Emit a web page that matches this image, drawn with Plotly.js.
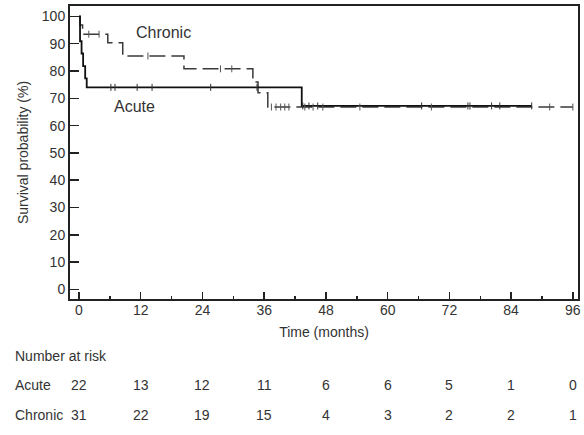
<!DOCTYPE html>
<html>
<head>
<meta charset="utf-8">
<script src="https://cdn.plot.ly/plotly-3.0.1.min.js"></script>
<style>html,body{margin:0;padding:0;background:#fff;}#chart{width:584px;height:435px;}</style>
</head>
<body>
<div id="chart"></div>
<script>
// Kaplan-Meier step data (months, survival %)
var acuteTime = [0, 0.2, 0.5, 0.8, 1.2, 1.5, 43.3, 88.0];
var acuteSurv = [100, 90.9, 86.4, 81.8, 77.3, 74.0, 67.2, 67.2];
var chronicTime = [0, 0.2, 0.7, 5.6, 8.5, 20.4, 33.8, 34.8, 36.7, 96.0];
var chronicSurv = [100, 96.8, 93.5, 90.3, 85.5, 80.8, 76.0, 72.0, 66.8, 66.8];

// censored observations
var acuteCensTime = [6.2, 7.0, 11.3, 14.2, 25.6, 34.6, 43.5, 44.7, 46.4, 66.6, 75.6, 76.0, 80.2, 81.8, 88.0];
var acuteCensSurv = [74.0, 74.0, 74.0, 74.0, 74.0, 74.0, 67.2, 67.2, 67.2, 67.2, 67.2, 67.2, 67.2, 67.2, 67.2];
var chronicCensTime = [1.9, 3.9, 13.4, 27.5, 29.7, 37.4, 38.3, 39.2, 40.0, 40.8, 43.9, 45.5, 47.4, 54.6, 68.5, 91.5, 96.0];
var chronicCensSurv = [93.5, 93.5, 85.5, 80.8, 80.8, 66.8, 66.8, 66.8, 66.8, 66.8, 66.8, 66.8, 66.8, 66.8, 66.8, 66.8, 66.8];

// number at risk table
var riskTimes = [0, 12, 24, 36, 48, 60, 72, 84, 96];
var acuteRisk = [22, 13, 12, 11, 6, 6, 5, 1, 0];
var chronicRisk = [31, 22, 19, 15, 4, 3, 2, 2, 1];

var FONT = 'Liberation Sans, Arial, Helvetica, sans-serif';
var TXT = '#333';

var traces = [
  {x: chronicTime, y: chronicSurv, mode: 'lines', line: {shape: 'hv', color: '#3a3a3a', width: 1.5, dash: '16px,6px'}, showlegend: false, hoverinfo: 'skip'},
  {x: acuteTime, y: acuteSurv, mode: 'lines', line: {shape: 'hv', color: '#111', width: 1.8}, showlegend: false, hoverinfo: 'skip'},
  {x: chronicCensTime, y: chronicCensSurv, mode: 'markers', marker: {symbol: 'line-ns', size: 5, line: {color: '#555', width: 1}}, showlegend: false, hoverinfo: 'skip'},
  {x: acuteCensTime, y: acuteCensSurv, mode: 'markers', marker: {symbol: 'line-ns', size: 5, line: {color: '#333', width: 1}}, showlegend: false, hoverinfo: 'skip'}
];

var H = 435, T = 6, B = 135.5;
var plotH = H - T - B;
function py(pix) { return (H - B - pix) / plotH; }
function px(pix) { return (pix - 70) / (584 - 70 - 6); }

var tf = {family: FONT, size: 14, color: TXT};
var annotations = [
  {x: 16.5, y: 94, xref: 'x', yref: 'y', text: 'Chronic', showarrow: false, xanchor: 'center', yanchor: 'middle', font: {family: FONT, size: 16, color: TXT}},
  {x: 10.7, y: 67, xref: 'x', yref: 'y', text: 'Acute', showarrow: false, xanchor: 'center', yanchor: 'middle', font: {family: FONT, size: 16, color: TXT}},
  {x: px(13), y: py(357), xref: 'paper', yref: 'paper', text: 'Number at risk', showarrow: false, xanchor: 'left', yanchor: 'middle', font: tf},
  {x: px(13), y: py(386), xref: 'paper', yref: 'paper', text: 'Acute', showarrow: false, xanchor: 'left', yanchor: 'middle', font: tf},
  {x: px(13), y: py(416), xref: 'paper', yref: 'paper', text: 'Chronic', showarrow: false, xanchor: 'left', yanchor: 'middle', font: tf}
];

for (var i = 0; i < riskTimes.length; i++) {
  annotations.push({x: riskTimes[i], y: py(386), xref: 'x', yref: 'paper', text: String(acuteRisk[i]), showarrow: false, xanchor: 'center', yanchor: 'middle', font: tf});
  annotations.push({x: riskTimes[i], y: py(416), xref: 'x', yref: 'paper', text: String(chronicRisk[i]), showarrow: false, xanchor: 'center', yanchor: 'middle', font: tf});
}

var layout = {
  width: 584, height: 435,
  margin: {l: 70, r: 6, t: T, b: B, pad: 0},
  paper_bgcolor: '#fff', plot_bgcolor: '#fff',
  font: {family: FONT, size: 14, color: TXT},
  showlegend: false,
  xaxis: {
    range: [-1.75, 97.0], tick0: 0, dtick: 12,
    ticks: 'inside', ticklen: 7, tickwidth: 1.5, tickcolor: '#222',
    minor: {dtick: 6, tick0: 0, ticks: 'inside', ticklen: 3, tickwidth: 1.5, tickcolor: '#222'},
    showline: true, linewidth: 2, linecolor: '#222', mirror: true,
    showgrid: false, zeroline: false,
    ticklabelstandoff: -3,
    tickfont: tf,
    title: {text: 'Time (months)', font: tf, standoff: 10}
  },
  yaxis: {
    range: [-3.5, 103.8], tick0: 0, dtick: 10,
    ticks: 'inside', ticklen: 9, tickwidth: 1.5, tickcolor: '#222',
    showline: true, linewidth: 2, linecolor: '#222', mirror: true,
    showgrid: false, zeroline: false,
    tickfont: tf,
    title: {text: 'Survival probability (%)', font: tf, standoff: 10}
  },
  annotations: annotations
};

Plotly.newPlot('chart', traces, layout, {displayModeBar: false, staticPlot: true});
</script>
</body>
</html>
